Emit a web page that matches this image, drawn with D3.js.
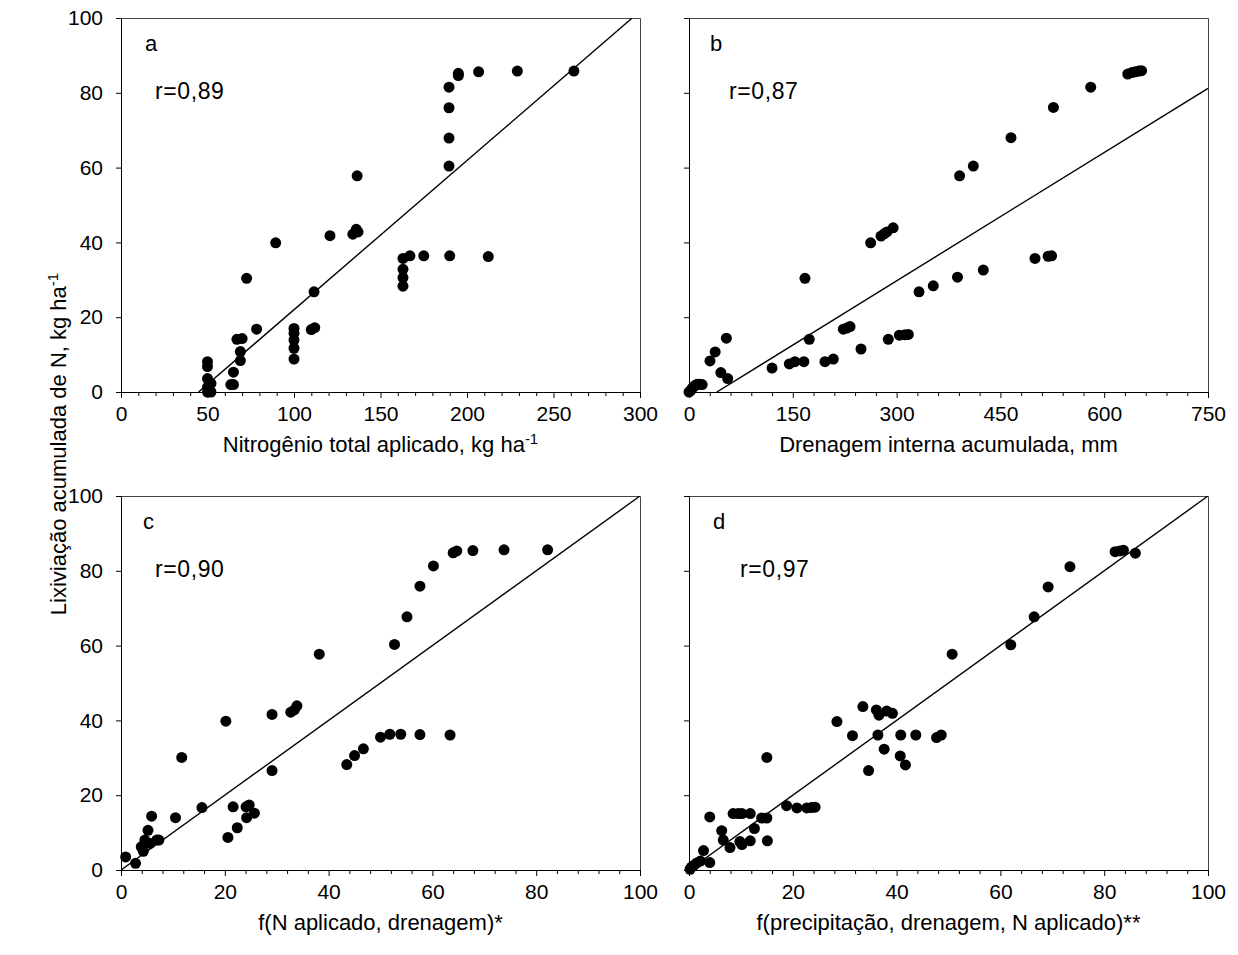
<!DOCTYPE html>
<html>
<head>
<meta charset="utf-8">
<script src="https://cdn.jsdelivr.net/npm/d3@7"></script>
<style>
    body { margin: 0; background: white; }
    svg text { font-family: Arial, "Liberation Sans", sans-serif; fill: black; }
</style>
</head>
<body>
<script>
// panel a: N applied vs leaching
const nAppliedX = [50, 50, 50, 52, 50, 51, 52, 50, 63.5, 65, 65, 69, 69, 67, 70, 72.6, 78.4, 89.4,
    100, 100, 100, 100, 100, 110, 112, 111.6, 120.8, 134, 136, 137, 136.5,
    163, 163, 163, 163, 167, 175, 190, 212.3,
    189.6, 189.6, 189.6, 189.6, 195, 195, 206.7, 229.1, 261.8];
const nAppliedY = [8.1, 6.8, 3.6, 2.3, 1.3, 0.4, 0, 0, 2, 2, 5.3, 8.4, 10.8, 14.1, 14.3, 30.4, 16.8, 39.9,
    17, 15.7, 13.9, 11.7, 8.8, 16.7, 17.2, 26.8, 41.8, 42.2, 43.5, 42.8, 57.8,
    35.7, 32.8, 30.6, 28.3, 36.4, 36.4, 36.4, 36.2,
    81.5, 76, 67.9, 60.4, 85.2, 84.6, 85.6, 85.8, 85.8];

// panel b: drainage vs leaching
const drainageX = [0, 2, 4, 6, 9, 12, 15, 19, 30.3, 37.8, 54, 46, 55.9, 120, 145, 153, 166, 167.6, 173.8,
    196.5, 208.5, 223, 228, 232.7, 248.6, 262.5, 277.5, 282, 286, 295, 288, 304, 312, 317,
    332.4, 353, 388, 391, 410.9, 425.3, 465.3, 500, 519, 524, 526.6, 580.5, 634, 640, 645, 650, 654];
const drainageY = [0, 0.3, 0.8, 1.3, 1.8, 2.1, 2.1, 2, 8.3, 10.7, 14.4, 5.2, 3.6, 6.4, 7.5, 8.1, 8.1, 30.4, 14.1,
    8.1, 8.8, 16.8, 17.1, 17.5, 11.5, 39.9, 41.7, 42.3, 42.8, 43.9, 14.1, 15.2, 15.3, 15.4,
    26.8, 28.4, 30.7, 57.8, 60.4, 32.6, 68, 35.7, 36.3, 36.4, 76.1, 81.5, 85, 85.4, 85.6, 85.8, 85.9];

// panel c: f(N aplicado, drenagem)
const fNDrainX = [0.9, 2.8, 3.9, 4.3, 4.6, 5.6, 5.2, 5.9, 6.9, 7.3, 10.5, 11.7, 15.6, 20.2, 20.6, 21.6, 22.4,
    24.2, 24.1, 24.7, 25.7, 29.1, 29.1, 32.7, 33.4, 33.9, 38.2, 43.5, 45, 46.7, 50, 51.8, 53.9,
    52.7, 55.1, 57.6, 57.6, 63.4, 60.2, 64, 64.7, 67.8, 73.8, 82.2];
const fNDrainY = [3.5, 1.8, 6.2, 5, 8, 7.1, 10.6, 14.4, 8, 8, 14, 30.1, 16.7, 39.8, 8.7, 16.9, 11.3,
    14, 16.9, 17.4, 15.2, 41.6, 26.6, 42.2, 42.8, 43.9, 57.7, 28.2, 30.6, 32.4, 35.5, 36.3, 36.3,
    60.3, 67.7, 75.9, 36.2, 36.1, 81.3, 84.8, 85.3, 85.4, 85.6, 85.6];

// panel d: f(precipitação, drenagem, N aplicado)
const fRainX = [0.2, 0.5, 1, 1.5, 2.2, 4, 2.8, 4, 6.3, 6.6, 7.9, 8.5, 9.5, 10.2, 11.8, 9.8, 10.2, 11.8,
    12.6, 14, 15, 15, 15.1, 18.8, 20.8, 22.7, 23.6, 24.3, 28.5, 31.5, 33.5, 34.6, 36.1, 36.6, 38.1,
    39.2, 36.4, 37.6, 40.7, 41.7, 40.8, 43.7, 47.7, 48.6, 50.7, 62, 66.5, 69.2, 73.4, 82.1, 83, 83.7, 86];
const fRainY = [0.2, 0.8, 1.3, 1.9, 2.4, 2, 5.2, 14.2, 10.5, 8, 6, 15.1, 15.1, 15.1, 15.1, 7.6, 6.8, 7.8,
    11.1, 13.9, 13.9, 30.1, 7.8, 17.2, 16.6, 16.6, 16.7, 16.8, 39.7, 35.9, 43.7, 26.6, 42.8, 41.4, 42.5,
    41.9, 36.1, 32.3, 30.5, 28.1, 36.1, 36.1, 35.4, 36.1, 57.7, 60.2, 67.7, 75.7, 81.1, 85.1, 85.3, 85.5, 84.7];

const panelLetters = ["a", "b", "c", "d"];
const rLabels = ["r=0,89", "r=0,87", "r=0,90", "r=0,97"];
const xTitles = ["Nitrogênio total aplicado, kg ha", "Drenagem interna acumulada, mm",
    "f(N aplicado, drenagem)*", "f(precipitação, drenagem, N aplicado)**"];
const xDomains = [[0, 300], [0, 750], [0, 100], [0, 100]];
const xMajorSteps = [50, 150, 20, 20];
const xMinorSteps = [10, 30, 4, 4];
const yTicks = [0, 20, 40, 60, 80, 100];
// fitted lines: y = intercept + slope * x
const fitIntercepts = [-17.9, -4.6, 0, 0];
const fitSlopes = [0.399, 0.1144, 1, 1];

class LeachingFigure {
    constructor() {
        this.width = 1238;
        this.height = 955;
        this.pw = 519;
        this.ph = 374;
        this.panels = [
            { left: 121, top: 18, xs: nAppliedX, ys: nAppliedY, yLabels: true, sup: true, letterDx: 24, rDx: 34 },
            { left: 689, top: 18, xs: drainageX, ys: drainageY, yLabels: false, sup: false, letterDx: 21, rDx: 40 },
            { left: 121, top: 496, xs: fNDrainX, ys: fNDrainY, yLabels: true, sup: false, letterDx: 22, rDx: 34 },
            { left: 689, top: 496, xs: fRainX, ys: fRainY, yLabels: false, sup: false, letterDx: 24, rDx: 51 }
        ];
    }

    init() {
        this.svg = d3.select("body").append("svg")
            .attr("width", this.width)
            .attr("height", this.height);

        this.panels.forEach((p, i) => this.drawPanel(p, i));

        const yTitle = this.svg.append("text")
            .attr("transform", "translate(66,444) rotate(-90)")
            .attr("text-anchor", "middle")
            .style("font-size", "22px");
        yTitle.append("tspan").text("Lixiviação acumulada de N, kg ha");
        yTitle.append("tspan").attr("dy", "-8").style("font-size", "15px").text("-1");
    }

    drawPanel(p, i) {
        const g = this.svg.append("g").attr("transform", `translate(${p.left},${p.top})`);
        const x = d3.scaleLinear().domain(xDomains[i]).range([0, this.pw]);
        const y = d3.scaleLinear().domain([0, 100]).range([this.ph, 0]);

        // frame top/right
        g.append("path")
            .attr("d", `M0,0.5H${this.pw}.5V${this.ph}`)
            .attr("fill", "none")
            .attr("stroke", "#444")
            .attr("stroke-width", 1);

        // minor x ticks
        const minor = d3.range(xDomains[i][0], xDomains[i][1] + 1e-9, xMinorSteps[i])
            .filter(v => Math.abs(v / xMajorSteps[i] - Math.round(v / xMajorSteps[i])) > 1e-6);
        g.append("g")
            .attr("transform", `translate(0,${this.ph})`)
            .call(d3.axisBottom(x).tickValues(minor).tickSize(4).tickFormat(""))
            .call(a => a.select(".domain").remove());

        const major = d3.range(xDomains[i][0], xDomains[i][1] + 1e-9, xMajorSteps[i]);
        g.append("g")
            .attr("transform", `translate(0,${this.ph})`)
            .call(d3.axisBottom(x).tickValues(major).tickSize(6).tickSizeOuter(0).tickPadding(8).tickFormat(d3.format("d")))
            .call(a => a.selectAll("text").style("font-size", "21px"));

        g.append("g")
            .call(d3.axisLeft(y).tickValues(yTicks).tickSize(5).tickSizeOuter(0).tickPadding(13)
                .tickFormat(p.yLabels ? d3.format("d") : ""))
            .call(a => a.selectAll("text").style("font-size", "21px"));

        g.selectAll(".tick line, .domain").attr("stroke", "black");

        // clip for the fitted line
        g.append("clipPath").attr("id", `clip-${i}`)
            .append("rect").attr("width", this.pw).attr("height", this.ph);

        const m = fitSlopes[i], b = fitIntercepts[i];
        const x0 = Math.max(xDomains[i][0], -b / m);
        const x1 = Math.min(xDomains[i][1], (100 - b) / m);
        g.append("line")
            .attr("clip-path", `url(#clip-${i})`)
            .attr("x1", x(x0)).attr("y1", y(b + m * x0))
            .attr("x2", x(x1)).attr("y2", y(b + m * x1))
            .attr("stroke", "black")
            .attr("stroke-width", 1.4);

        g.selectAll("circle")
            .data(p.xs.map((v, k) => [v, p.ys[k]]))
            .enter().append("circle")
            .attr("cx", d => x(d[0]))
            .attr("cy", d => y(d[1]))
            .attr("r", 5.5)
            .attr("fill", "black");

        g.append("text")
            .attr("x", p.letterDx).attr("y", 33)
            .style("font-size", "22px")
            .text(panelLetters[i]);
        g.append("text")
            .attr("x", p.rDx).attr("y", 81)
            .style("font-size", "23px")
            .style("letter-spacing", "0.6px")
            .text(rLabels[i]);

        const title = g.append("text")
            .attr("x", this.pw / 2).attr("y", this.ph + 60)
            .attr("text-anchor", "middle")
            .style("font-size", "22px");
        title.append("tspan").text(xTitles[i]);
        if (p.sup) title.append("tspan").attr("dy", "-8").style("font-size", "15px").text("-1");
    }
}

const fig = new LeachingFigure();
fig.init();
</script>
</body>
</html>
